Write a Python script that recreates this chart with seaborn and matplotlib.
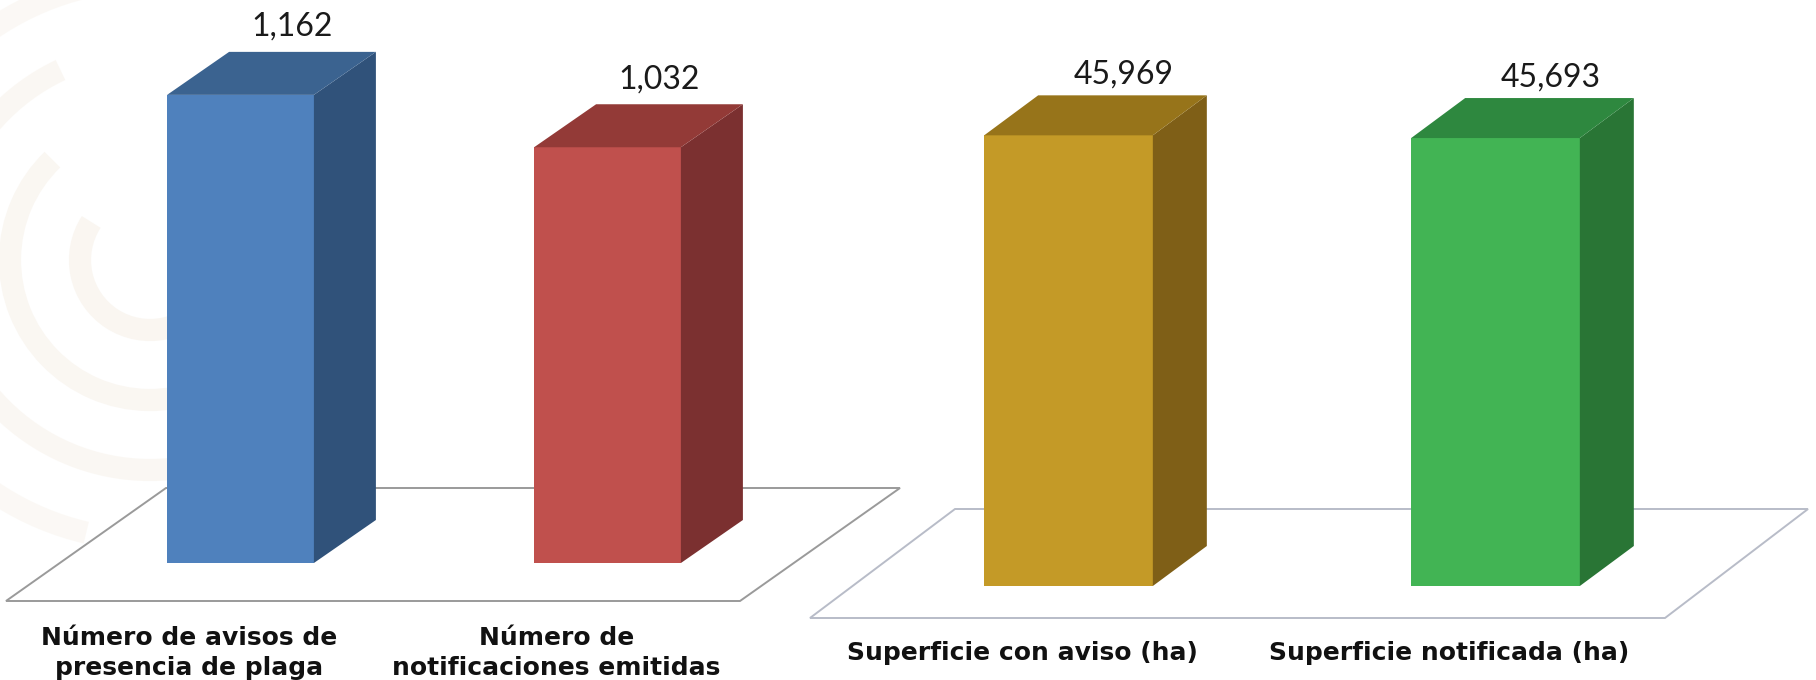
import matplotlib
matplotlib.use("Agg")
import matplotlib.pyplot as plt
from matplotlib.patches import Polygon, Arc
from matplotlib.transforms import IdentityTransform
import seaborn as sns

# data
conteo_labels = ["Número de avisos de\npresencia de plaga", "Número de\nnotificaciones emitidas"]
conteo_values = [1162, 1032]
superficie_labels = ["Superficie con aviso (ha)", "Superficie notificada (ha)"]
superficie_values = [45969, 45693]

# colors: front, side, top
conteo_front = ["#4F81BD", "#C0504D"]
conteo_side = ["#30527A", "#7B3030"]
conteo_top = ["#3B6390", "#933A37"]
superficie_front = ["#C49A27", "#42B454"]
superficie_side = ["#7F5F17", "#297535"]
superficie_top = ["#97741A", "#2E883F"]

W, H = 1816, 680
sns.set_theme(style="white")
plt.rcParams['font.family'] = ['DejaVu Sans']

fig = plt.figure(figsize=(W / 100, H / 100), dpi=100)
fig.patch.set_facecolor("white")


def px_rect(x0, width, y_bottom, height):
    # pixel box (y from top) -> figure fraction rect
    return [x0 / W, (H - y_bottom) / H, width / W, height / H]


# very faint background watermark on the left
for r, a1, a2, alpha in [(70, 120, 300, 0.7), (140, 110, 290, 0.65), (210, 100, 280, 0.6),
                         (280, 95, 265, 0.5), (350, 90, 250, 0.4), (420, 85, 235, 0.3)]:
    arc = Arc((150 / W, 1 - 260 / H), 2 * r / W, 2 * r / H, theta1=a1, theta2=a2,
              transform=fig.transFigure, color="#F8F3EC", linewidth=16,
              alpha=alpha, zorder=-3)
    fig.add_artist(arc)


def floor(pts, color):
    poly = Polygon([(x / W, 1 - y / H) for x, y in pts], closed=True,
                   transform=fig.transFigure, facecolor="white",
                   edgecolor=color, linewidth=1.4, zorder=-1)
    fig.add_artist(poly)


# floors behind the bars
floor([(6, 601), (740, 601), (900, 488), (166, 488)], "#9A9A9A")
floor([(810, 618), (1665, 618), (1808, 509), (955, 509)], "#B8BCC8")


def draw_panel(rect, labels, values, front, side, top, ymax, width, depth, text_off, label_off):
    ax = fig.add_axes(rect)
    ax.patch.set_visible(False)
    sns.barplot(x=labels, y=values, hue=labels, palette=front, width=width,
                saturation=1, legend=False, linewidth=0, ax=ax)
    ax.set_xlim(-0.5, 1.5)
    ax.set_ylim(0, ymax)
    sns.despine(ax=ax, left=True, bottom=True)
    ax.set_yticks([])
    ax.set_xticklabels([])
    ax.set_xlabel("")
    ax.set_ylabel("")
    ax.tick_params(axis="x", length=0)

    dx, dy = depth
    for bar, v, lab, sc, tc in zip(ax.patches, values, labels, side, top):
        xc = bar.get_x() + bar.get_width() / 2
        x0, y0 = ax.transData.transform((bar.get_x(), 0))
        x1, y1 = ax.transData.transform((bar.get_x() + bar.get_width(), bar.get_height()))
        fig.add_artist(Polygon([(x1, y0), (x1, y1), (x1 + dx, y1 + dy), (x1 + dx, y0 + dy)],
                               closed=True, transform=IdentityTransform(),
                               facecolor=sc, edgecolor="none", zorder=2))
        fig.add_artist(Polygon([(x0, y1), (x1, y1), (x1 + dx, y1 + dy), (x0 + dx, y1 + dy)],
                               closed=True, transform=IdentityTransform(),
                               facecolor=tc, edgecolor="none", zorder=2))
        ax.annotate(f"{v:,}", (xc, bar.get_height()),
                    xytext=text_off, textcoords="offset pixels",
                    ha="center", va="center", fontsize=23, color="#1A1A1A",
                    family=["Lato", "DejaVu Sans"])
        ax.annotate(lab, (xc, 0), xytext=label_off, textcoords="offset pixels",
                    ha="center", va="center", fontsize=18, fontweight="bold",
                    color="#111111", linespacing=1.28, annotation_clip=False)
    return ax


draw_panel(px_rect(57, 734, 563, 564), conteo_labels, conteo_values,
           conteo_front, conteo_side, conteo_top, 1400, 0.4, (62, 43), (52, 68), (-51, -90))
draw_panel(px_rect(855, 854, 586, 549), superficie_labels, superficie_values,
           superficie_front, superficie_side, superficie_top, 56000, 0.395, (54, 40), (55, 61), (-46, -67))

fig.savefig("out.png", dpi=100)
